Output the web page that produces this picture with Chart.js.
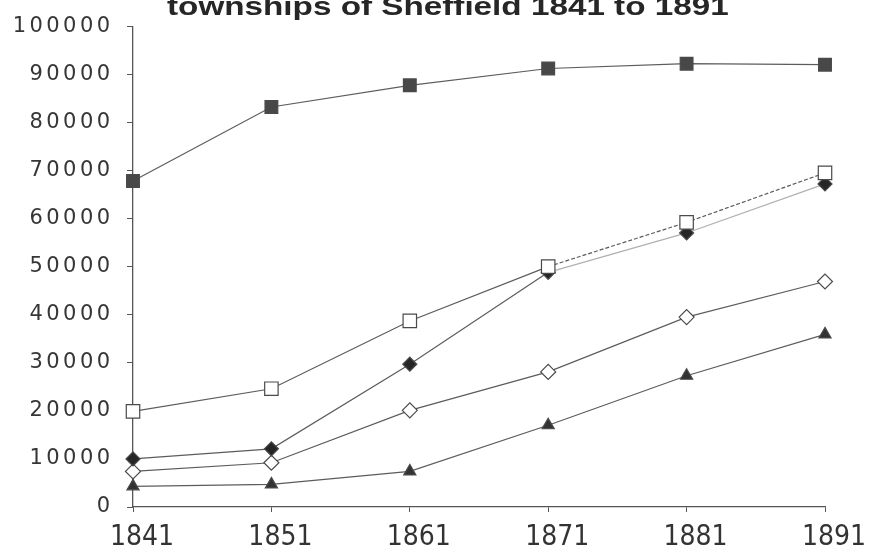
<!DOCTYPE html>
<html>
<head>
<meta charset="utf-8">
<script src="https://cdn.jsdelivr.net/npm/chart.js@4.4.0/dist/chart.umd.min.js"></script>
<style>
  html, body { margin: 0; padding: 0; background: #ffffff; overflow: hidden; }
  #wrap { position: relative; width: 877px; height: 558px; }
  #title {
    position: absolute; left: 167px; top: -6px; white-space: nowrap;
    font-family: "Liberation Sans", Arial, sans-serif; font-weight: bold;
    font-size: 25px; line-height: 25px; color: #262626;
    transform: scaleX(1.33); transform-origin: left top;
  }
</style>
</head>
<body>
<div id="wrap">
  <canvas id="c" width="877" height="558"></canvas>
  <div id="title">townships of Sheffield 1841 to 1891</div>
</div>
<script>
const years = ["1841", "1851", "1861", "1871", "1881", "1891"];
const yTicks = [0, 10000, 20000, 30000, 40000, 50000, 60000, 70000, 80000, 90000, 100000];
const seriesFilledSquare  = [67800, 83200, 87700, 91200, 92200, 92000];
const seriesOpenSquare    = [19900, 24600, 38700, 50000, 59200, 69500];
const seriesFilledDiamond = [10000, 12100, 29700, 48800, 57000, 67200];
const seriesOpenDiamond   = [7400, 9200, 20100, 28100, 39500, 46900];
const seriesTriangle      = [4300, 4700, 7400, 17000, 27300, 35900];

const lineCol = '#5c5c5c';
function ds(data, style, fill, radius, extra) {
  return Object.assign({
    data: data,
    borderColor: lineCol,
    borderWidth: 1.2,
    tension: 0,
    pointStyle: style,
    pointRadius: radius,
    pointHoverRadius: radius,
    pointBackgroundColor: fill,
    pointBorderColor: '#4a4a4a',
    pointBorderWidth: 1.2,
    clip: false,
    fill: false
  }, extra || {});
}

// wide lettering for the value axis (drawn first), normal for the year axis labels (drawn after datasets)
const spacingPlugin = {
  id: 'spacing',
  beforeDraw: chart => { chart.ctx.letterSpacing = '3.4px'; },
  beforeDatasetsDraw: chart => { chart.ctx.letterSpacing = '0px'; }
};

new Chart(document.getElementById('c'), {
  type: 'line',
  plugins: [spacingPlugin],
  data: {
    labels: years,
    datasets: [
      ds(seriesFilledSquare, 'rect', '#484848', 9),
      ds(seriesOpenSquare, 'rect', '#ffffff', 9.5, {
        segment: { borderDash: ctx => ctx.p0DataIndex >= 3 ? [4, 2] : undefined }
      }),
      ds(seriesFilledDiamond, 'rectRot', '#262626', 7, {
        segment: { borderColor: ctx => ctx.p0DataIndex >= 3 ? '#b0b0b0' : lineCol }
      }),
      ds(seriesOpenDiamond, 'rectRot', '#ffffff', 7.5),
      ds(seriesTriangle, 'triangle', '#333333', 7)
    ]
  },
  options: {
    responsive: false,
    animation: false,
    events: [],
    layout: { padding: { top: 8, right: 52, left: 0, bottom: 0 } },
    plugins: { legend: { display: false }, tooltip: { enabled: false }, title: { display: false } },
    scales: {
      x: {
        type: 'category',
        offset: false,
        afterFit: s => { s.height = 51; },
        border: { display: true, color: '#555', width: 1.3 },
        grid: { drawOnChartArea: false, drawTicks: true, tickLength: 5, color: '#555' },
        ticks: {
          z: 1,
          color: '#333',
          padding: 9,
          labelOffset: 9,
          maxRotation: 0,
          autoSkip: false,
          font: { family: "'Liberation Sans Narrow', 'DejaVu Sans Condensed', 'Liberation Sans', sans-serif", size: 28 }
        }
      },
      y: {
        min: 0,
        max: 100000,
        afterFit: s => { s.width = 133; },
        afterBuildTicks: s => { s.ticks = yTicks.map(v => ({ value: v })); },
        border: { display: true, color: '#555', width: 1.3 },
        grid: { drawOnChartArea: false, drawTicks: true, tickLength: 6, color: '#555' },
        ticks: {
          color: '#363636',
          padding: 13.6,
          callback: v => String(v),
          font: { family: "'DejaVu Sans', sans-serif", size: 21 }
        }
      }
    }
  }
});
</script>
</body>
</html>
